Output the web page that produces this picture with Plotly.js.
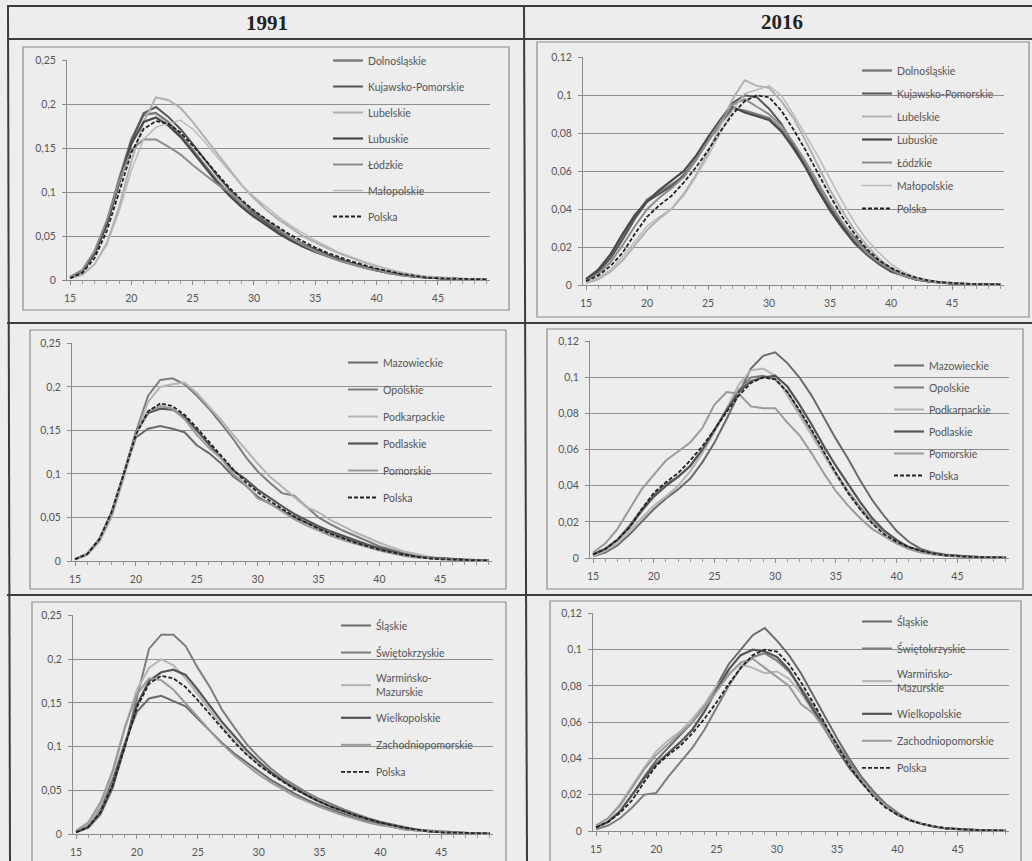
<!DOCTYPE html>
<html>
<head>
<meta charset="utf-8">
<script src="https://cdn.plot.ly/plotly-3.0.1.min.js"></script>
<style>html,body{margin:0;padding:0;background:#ededed;}#chart{width:1032px;height:861px;}</style>
</head>
<body>
<div id="chart"></div>
<script>
// ---------- DATA ----------
const ages = [15,16,17,18,19,20,21,22,23,24,25,26,27,28,29,30,31,32,33,34,35,36,37,38,39,40,41,42,43,44,45,46,47,48,49];
const headerLabels = ["1991", "2016"];
const polskaLabel = "Polska";

const polska1991 = [0.002,0.008,0.025,0.056,0.100,0.145,0.172,0.181,0.178,0.168,0.153,0.137,0.120,0.105,0.091,0.079,0.069,0.060,0.051,0.044,0.037,0.031,0.026,0.021,0.017,0.013,0.010,0.007,0.005,0.003,0.002,0.0015,0.001,0.0007,0.0005];
const polska2016 = [0.002,0.005,0.010,0.017,0.027,0.036,0.042,0.047,0.054,0.062,0.071,0.081,0.090,0.097,0.100,0.099,0.092,0.082,0.071,0.059,0.047,0.036,0.027,0.019,0.013,0.009,0.006,0.004,0.0025,0.0015,0.001,0.0007,0.0005,0.0003,0.0002];

// 1991, group 1
const names1 = ["Dolnośląskie","Kujawsko-Pomorskie","Lubelskie","Lubuskie","Łódzkie","Małopolskie"];
const dolnoslaskie1991 = [0.003,0.011,0.032,0.066,0.115,0.160,0.188,0.190,0.180,0.165,0.148,0.130,0.113,0.098,0.085,0.074,0.064,0.055,0.047,0.040,0.034,0.028,0.023,0.019,0.015,0.011,0.008,0.006,0.004,0.003,0.002,0.0015,0.001,0.0007,0.0005];
const kujawsko1991 = [0.003,0.010,0.030,0.064,0.112,0.158,0.190,0.197,0.186,0.172,0.155,0.137,0.119,0.103,0.089,0.077,0.066,0.057,0.048,0.041,0.035,0.029,0.024,0.019,0.015,0.012,0.009,0.006,0.004,0.003,0.002,0.0015,0.001,0.0007,0.0005];
const lubelskie1991 = [0.002,0.006,0.018,0.042,0.083,0.135,0.180,0.208,0.205,0.196,0.180,0.162,0.143,0.125,0.108,0.093,0.080,0.069,0.059,0.050,0.043,0.036,0.030,0.025,0.020,0.016,0.012,0.008,0.006,0.004,0.003,0.002,0.0015,0.001,0.0007];
const lubuskie1991 = [0.003,0.010,0.030,0.063,0.110,0.155,0.180,0.185,0.176,0.163,0.146,0.128,0.111,0.096,0.083,0.072,0.062,0.053,0.045,0.038,0.032,0.027,0.022,0.018,0.014,0.011,0.008,0.006,0.004,0.003,0.002,0.0015,0.001,0.0007,0.0005];
const lodzkie1991 = [0.003,0.011,0.033,0.068,0.112,0.148,0.160,0.160,0.152,0.143,0.131,0.120,0.109,0.100,0.089,0.078,0.068,0.058,0.048,0.040,0.033,0.027,0.022,0.018,0.014,0.011,0.008,0.005,0.004,0.003,0.002,0.0015,0.001,0.0007,0.0005];
const malopolskie1991 = [0.002,0.006,0.018,0.040,0.078,0.125,0.160,0.174,0.178,0.182,0.172,0.157,0.140,0.124,0.108,0.095,0.083,0.072,0.062,0.053,0.045,0.038,0.031,0.026,0.021,0.016,0.012,0.009,0.006,0.004,0.003,0.002,0.0015,0.001,0.0007];

// 1991, group 2
const names2 = ["Mazowieckie","Opolskie","Podkarpackie","Podlaskie","Pomorskie"];
const mazowieckie1991 = [0.002,0.008,0.025,0.056,0.100,0.142,0.152,0.155,0.152,0.148,0.133,0.124,0.112,0.097,0.087,0.074,0.066,0.058,0.050,0.044,0.038,0.032,0.027,0.022,0.018,0.014,0.011,0.008,0.005,0.004,0.003,0.002,0.0015,0.001,0.0007];
const opolskie1991 = [0.002,0.008,0.025,0.056,0.100,0.148,0.190,0.208,0.210,0.203,0.190,0.175,0.158,0.140,0.120,0.103,0.090,0.078,0.075,0.062,0.050,0.042,0.035,0.029,0.023,0.017,0.013,0.009,0.006,0.004,0.003,0.002,0.0015,0.001,0.0007];
const podkarpackie1991 = [0.002,0.007,0.022,0.050,0.095,0.145,0.183,0.200,0.203,0.205,0.193,0.178,0.162,0.145,0.128,0.112,0.097,0.085,0.073,0.062,0.056,0.047,0.040,0.033,0.027,0.021,0.016,0.011,0.008,0.005,0.003,0.002,0.0015,0.001,0.0007];
const podlaskie1991 = [0.002,0.008,0.025,0.055,0.100,0.148,0.170,0.175,0.174,0.166,0.150,0.134,0.118,0.104,0.094,0.082,0.072,0.063,0.054,0.047,0.040,0.034,0.029,0.024,0.019,0.015,0.011,0.008,0.005,0.004,0.003,0.002,0.0015,0.001,0.0007];
const pomorskie1991 = [0.002,0.008,0.025,0.056,0.100,0.147,0.172,0.178,0.175,0.163,0.145,0.130,0.118,0.100,0.088,0.072,0.066,0.057,0.048,0.041,0.035,0.029,0.024,0.020,0.016,0.012,0.009,0.006,0.004,0.003,0.002,0.0015,0.001,0.0007,0.0005];

// 1991, group 3
const names3 = ["Śląskie","Świętokrzyskie","Warmińsko-<br>Mazurskie","Wielkopolskie","Zachodniopomorskie"];
const slaskie1991 = [0.003,0.010,0.030,0.062,0.104,0.140,0.155,0.158,0.152,0.146,0.132,0.118,0.104,0.092,0.082,0.071,0.062,0.054,0.046,0.039,0.033,0.028,0.023,0.018,0.014,0.011,0.008,0.005,0.004,0.003,0.002,0.0015,0.001,0.0007,0.0005];
const swietokrzyskie1991 = [0.002,0.007,0.022,0.052,0.100,0.155,0.212,0.228,0.228,0.215,0.190,0.168,0.142,0.122,0.103,0.088,0.075,0.064,0.055,0.047,0.040,0.034,0.028,0.023,0.018,0.014,0.011,0.008,0.005,0.004,0.003,0.002,0.0015,0.001,0.0007];
const warminsko1991 = [0.003,0.010,0.032,0.068,0.120,0.165,0.190,0.200,0.193,0.178,0.160,0.142,0.123,0.107,0.092,0.080,0.069,0.060,0.051,0.044,0.037,0.031,0.026,0.021,0.017,0.013,0.010,0.007,0.005,0.003,0.002,0.0015,0.001,0.0007,0.0005];
const wielkopolskie1991 = [0.002,0.008,0.024,0.055,0.100,0.148,0.175,0.185,0.188,0.182,0.165,0.146,0.128,0.112,0.096,0.083,0.071,0.061,0.052,0.044,0.037,0.031,0.026,0.021,0.017,0.013,0.010,0.007,0.005,0.003,0.002,0.0015,0.001,0.0007,0.0005];
const zachodnio1991 = [0.004,0.013,0.036,0.072,0.122,0.160,0.178,0.176,0.165,0.150,0.134,0.118,0.103,0.090,0.079,0.068,0.059,0.051,0.043,0.037,0.031,0.026,0.021,0.017,0.013,0.010,0.008,0.005,0.004,0.003,0.002,0.0015,0.001,0.0007,0.0005];

// 2016, group 1
const dolnoslaskie2016 = [0.003,0.008,0.016,0.026,0.036,0.045,0.049,0.053,0.057,0.066,0.076,0.085,0.093,0.092,0.090,0.088,0.082,0.073,0.063,0.052,0.041,0.032,0.025,0.018,0.012,0.008,0.005,0.003,0.002,0.0012,0.0008,0.0005,0.0003,0.0002,0.0001];
const kujawsko2016 = [0.003,0.007,0.014,0.024,0.035,0.044,0.048,0.052,0.058,0.066,0.077,0.087,0.096,0.100,0.099,0.093,0.085,0.074,0.062,0.050,0.039,0.030,0.022,0.016,0.011,0.007,0.005,0.003,0.002,0.0012,0.0008,0.0005,0.0003,0.0002,0.0001];
const lubelskie2016 = [0.001,0.003,0.007,0.013,0.021,0.029,0.035,0.040,0.048,0.058,0.070,0.084,0.098,0.108,0.105,0.104,0.097,0.088,0.076,0.063,0.050,0.039,0.029,0.021,0.014,0.009,0.006,0.004,0.0025,0.0015,0.001,0.0006,0.0004,0.0002,0.0001];
const lubuskie2016 = [0.003,0.008,0.016,0.027,0.037,0.044,0.050,0.055,0.060,0.068,0.078,0.087,0.094,0.091,0.089,0.087,0.081,0.072,0.062,0.050,0.040,0.031,0.023,0.017,0.012,0.008,0.005,0.003,0.002,0.0012,0.0008,0.0005,0.0003,0.0002,0.0001];
const lodzkie2016 = [0.002,0.006,0.012,0.021,0.031,0.040,0.046,0.051,0.057,0.066,0.076,0.086,0.095,0.098,0.094,0.090,0.084,0.075,0.065,0.054,0.043,0.033,0.024,0.017,0.012,0.008,0.005,0.003,0.002,0.0012,0.0008,0.0005,0.0003,0.0002,0.0001];
const malopolskie2016 = [0.001,0.004,0.008,0.015,0.023,0.031,0.036,0.040,0.047,0.057,0.068,0.080,0.092,0.101,0.103,0.105,0.100,0.090,0.079,0.068,0.056,0.044,0.033,0.024,0.017,0.011,0.007,0.004,0.0025,0.0015,0.001,0.0006,0.0004,0.0002,0.0001];

// 2016, group 2
const mazowieckie2016 = [0.001,0.003,0.007,0.013,0.020,0.027,0.033,0.038,0.044,0.053,0.064,0.077,0.091,0.105,0.112,0.114,0.108,0.100,0.090,0.078,0.066,0.055,0.043,0.032,0.023,0.015,0.009,0.005,0.003,0.002,0.0012,0.0008,0.0005,0.0003,0.0002];
const opolskie2016 = [0.002,0.005,0.010,0.018,0.027,0.035,0.041,0.045,0.051,0.060,0.071,0.082,0.093,0.100,0.101,0.099,0.092,0.081,0.070,0.058,0.047,0.037,0.028,0.020,0.014,0.009,0.006,0.004,0.0025,0.0015,0.001,0.0006,0.0004,0.0002,0.0001];
const podkarpackie2016 = [0.001,0.004,0.008,0.015,0.022,0.029,0.034,0.040,0.048,0.058,0.070,0.083,0.096,0.104,0.105,0.101,0.090,0.079,0.068,0.057,0.046,0.036,0.027,0.019,0.014,0.009,0.006,0.004,0.0025,0.0015,0.001,0.0006,0.0004,0.0002,0.0001];
const podlaskie2016 = [0.002,0.005,0.010,0.017,0.026,0.034,0.040,0.045,0.051,0.060,0.071,0.082,0.092,0.098,0.100,0.101,0.095,0.085,0.074,0.062,0.051,0.041,0.031,0.022,0.015,0.010,0.006,0.004,0.0025,0.0015,0.001,0.0006,0.0004,0.0002,0.0001];
const pomorskie2016 = [0.003,0.008,0.016,0.027,0.038,0.046,0.054,0.059,0.064,0.072,0.085,0.092,0.091,0.084,0.083,0.083,0.075,0.068,0.058,0.047,0.037,0.029,0.022,0.016,0.012,0.008,0.005,0.003,0.002,0.0012,0.0008,0.0005,0.0003,0.0002,0.0001];

// 2016, group 3
const slaskie2016 = [0.002,0.005,0.011,0.020,0.030,0.039,0.046,0.053,0.060,0.069,0.080,0.092,0.100,0.108,0.112,0.105,0.097,0.087,0.075,0.063,0.051,0.040,0.030,0.022,0.015,0.010,0.006,0.004,0.0025,0.0015,0.001,0.0006,0.0004,0.0002,0.0001];
const swietokrzyskie2016 = [0.001,0.003,0.007,0.013,0.020,0.021,0.030,0.038,0.046,0.056,0.068,0.080,0.090,0.096,0.098,0.094,0.088,0.079,0.069,0.058,0.048,0.038,0.029,0.021,0.015,0.010,0.006,0.004,0.0025,0.0015,0.001,0.0006,0.0004,0.0002,0.0001];
const warminsko2016 = [0.003,0.007,0.015,0.025,0.035,0.044,0.050,0.055,0.062,0.070,0.080,0.087,0.092,0.090,0.087,0.088,0.084,0.076,0.066,0.056,0.046,0.036,0.028,0.020,0.014,0.009,0.006,0.004,0.0025,0.0015,0.001,0.0006,0.0004,0.0002,0.0001];
const wielkopolskie2016 = [0.002,0.005,0.011,0.020,0.029,0.037,0.043,0.049,0.056,0.066,0.078,0.089,0.097,0.100,0.099,0.096,0.089,0.078,0.067,0.056,0.045,0.035,0.027,0.020,0.014,0.009,0.006,0.004,0.0025,0.0015,0.001,0.0006,0.0004,0.0002,0.0001];
const zachodnio2016 = [0.003,0.007,0.014,0.024,0.034,0.042,0.048,0.054,0.060,0.068,0.077,0.086,0.093,0.095,0.090,0.085,0.080,0.070,0.065,0.056,0.046,0.036,0.028,0.020,0.014,0.009,0.006,0.004,0.0025,0.0015,0.001,0.0006,0.0004,0.0002,0.0001];

// ---------- STYLE / LAYOUT HELPERS ----------
const W = 1032, H = 861;
const px = x => x / W;
const py = y => 1 - y / H;

const grays1 = ["#7a7a7a","#555555","#b0b0b0","#4a4a4a","#8c8c8c","#b8b8b8"];
const grays2 = ["#6a6a6a","#7d7d7d","#b4b4b4","#555555","#9a9a9a"];
const widths1 = [2.4,2,2,2.2,2,1.4];
const widths2 = [2,2,2,2.2,2];

const panels = [
  {series:[dolnoslaskie1991,kujawsko1991,lubelskie1991,lubuskie1991,lodzkie1991,malopolskie1991], names:names1, polska:polska1991, ymax:0.25, dtick:0.05,
   plot:[67,60,490,280], box:[23,47,509,310], leg:[328,46], gap:7, colors:grays1, widths:widths1},
  {series:[dolnoslaskie2016,kujawsko2016,lubelskie2016,lubuskie2016,lodzkie2016,malopolskie2016], names:names1, polska:polska2016, ymax:0.12, dtick:0.02,
   plot:[583,57,1004,285], box:[537,42,1029,317], leg:[857,56], gap:4, colors:grays1, widths:widths1},
  {series:[mazowieckie1991,opolskie1991,podkarpackie1991,podlaskie1991,pomorskie1991], names:names2, polska:polska1991, ymax:0.25, dtick:0.05,
   plot:[72,343,492,561], box:[30,330,506,589], leg:[343,348], gap:8, colors:grays2, widths:widths2},
  {series:[mazowieckie2016,opolskie2016,podkarpackie2016,podlaskie2016,pomorskie2016], names:names2, polska:polska2016, ymax:0.12, dtick:0.02,
   plot:[590,341,1009,558], box:[547,329,1023,589], leg:[889,351], gap:3, colors:grays2, widths:widths2},
  {series:[slaskie1991,swietokrzyskie1991,warminsko1991,wielkopolskie1991,zachodnio1991], names:names3, polska:polska1991, ymax:0.25, dtick:0.05,
   plot:[73,615,493,834], box:[32,602,506,875], leg:[336,611], gap:8, colors:grays2, widths:widths2},
  {series:[slaskie2016,swietokrzyskie2016,warminsko2016,wielkopolskie2016,zachodnio2016], names:names3, polska:polska2016, ymax:0.12, dtick:0.02,
   plot:[593,613,1009,831], box:[550,601,1021,875], leg:[857,607], gap:8, colors:grays2, widths:widths2}
];

const tickFont = {family:"Lato, 'Open Sans', sans-serif", size:10.5, color:"#555"};
const traces = [];
const layout = {
  width: W, height: H,
  margin: {l:0, r:0, t:0, b:0},
  paper_bgcolor: "#ededed",
  plot_bgcolor: "rgba(0,0,0,0)",
  separators: ", ",
  showlegend: true,
  shapes: [], annotations: []
};

panels.forEach((p, i) => {
  const n = i + 1;
  const xa = n === 1 ? "xaxis" : "xaxis" + n;
  const ya = n === 1 ? "yaxis" : "yaxis" + n;
  const xr = n === 1 ? "x" : "x" + n;
  const yr = n === 1 ? "y" : "y" + n;
  const lg = n === 1 ? "legend" : "legend" + n;

  p.series.forEach((s, k) => {
    traces.push({
      type: "scatter", mode: "lines", x: ages, y: s, name: p.names[k],
      xaxis: xr, yaxis: yr, legend: lg, legendgroup: "g" + n + "_" + k,
      line: {color: p.colors[k], width: p.widths[k], shape: "linear"},
      hoverinfo: "x+y+name"
    });
  });
  traces.push({
    type: "scatter", mode: "lines", x: ages, y: p.polska, name: polskaLabel,
    xaxis: xr, yaxis: yr, legend: lg, legendgroup: "g" + n + "_p",
    line: {color: "#222", width: 1.8, dash: "4px,2px"}
  });

  layout[xa] = {
    domain: [px(p.plot[0]), px(p.plot[2])], anchor: yr,
    range: [14.75, 49.25], tick0: 15, dtick: 5,
    showgrid: false, zeroline: false,
    showline: true, linecolor: "#8a8a8a", linewidth: 1,
    ticks: "outside", ticklen: 4, tickcolor: "#8a8a8a",
    minor: {dtick: 1, tick0: 15, ticks: "outside", ticklen: 3, tickcolor: "#9a9a9a", showgrid: false},
    tickfont: tickFont, ticklabelstandoff: 4, fixedrange: true
  };
  layout[ya] = {
    domain: [py(p.plot[3]), py(p.plot[1])], anchor: xr,
    range: [0, p.ymax * 1.002], tick0: 0, dtick: p.dtick,
    showgrid: true, gridcolor: "#8f8f8f", gridwidth: 1,
    zeroline: false, showline: true, linecolor: "#8a8a8a", linewidth: 1,
    ticks: "outside", ticklen: 4, tickcolor: "#8a8a8a",
    tickfont: tickFont, ticklabelstandoff: 4, fixedrange: true
  };
  layout[lg] = {
    x: px(p.leg[0]), y: py(p.leg[1]), xanchor: "left", yanchor: "top",
    bgcolor: "rgba(0,0,0,0)", borderwidth: 0,
    font: {family:"Lato, 'Open Sans', sans-serif", size: 10.5, color: "#555"},
    traceorder: "grouped", tracegroupgap: p.gap, itemclick: false, itemdoubleclick: false
  };

  // chart-area border (Excel chart frame)
  layout.shapes.push({type:"rect", xref:"paper", yref:"paper",
    x0: px(p.box[0]), x1: px(p.box[2]), y0: py(p.box[3]), y1: py(p.box[1]),
    line:{color:"#8c8c8c", width:1.2}, fillcolor:"rgba(0,0,0,0)", layer:"below"});
});

// table frame
const lineStyle = {color:"#3c3c3c", width:2};
[[7,6,1032,6],[7,39,1032,39],[7,323,1032,323],[7,595,1032,595]].forEach(l =>
  layout.shapes.push({type:"line", xref:"paper", yref:"paper", x0:px(l[0]), y0:py(l[1]), x1:px(l[2]), y1:py(l[3]), line:lineStyle}));
[[8,6,10,861],[524,6,527,861]].forEach(l =>
  layout.shapes.push({type:"line", xref:"paper", yref:"paper", x0:px(l[0]), y0:py(l[1]), x1:px(l[2]), y1:py(l[3]), line:lineStyle}));

// headers
layout.annotations.push(
  {text:"<b>" + headerLabels[0] + "</b>", xref:"paper", yref:"paper", x:px(267), y:py(23), showarrow:false,
   font:{family:"'Liberation Serif', 'DejaVu Serif', serif", size:21, color:"#222"}, xanchor:"center", yanchor:"middle"},
  {text:"<b>" + headerLabels[1] + "</b>", xref:"paper", yref:"paper", x:px(782), y:py(22), showarrow:false,
   font:{family:"'Liberation Serif', 'DejaVu Serif', serif", size:21, color:"#222"}, xanchor:"center", yanchor:"middle"}
);

Plotly.newPlot("chart", traces, layout, {displayModeBar:false, staticPlot:false});
</script>
</body>
</html>
